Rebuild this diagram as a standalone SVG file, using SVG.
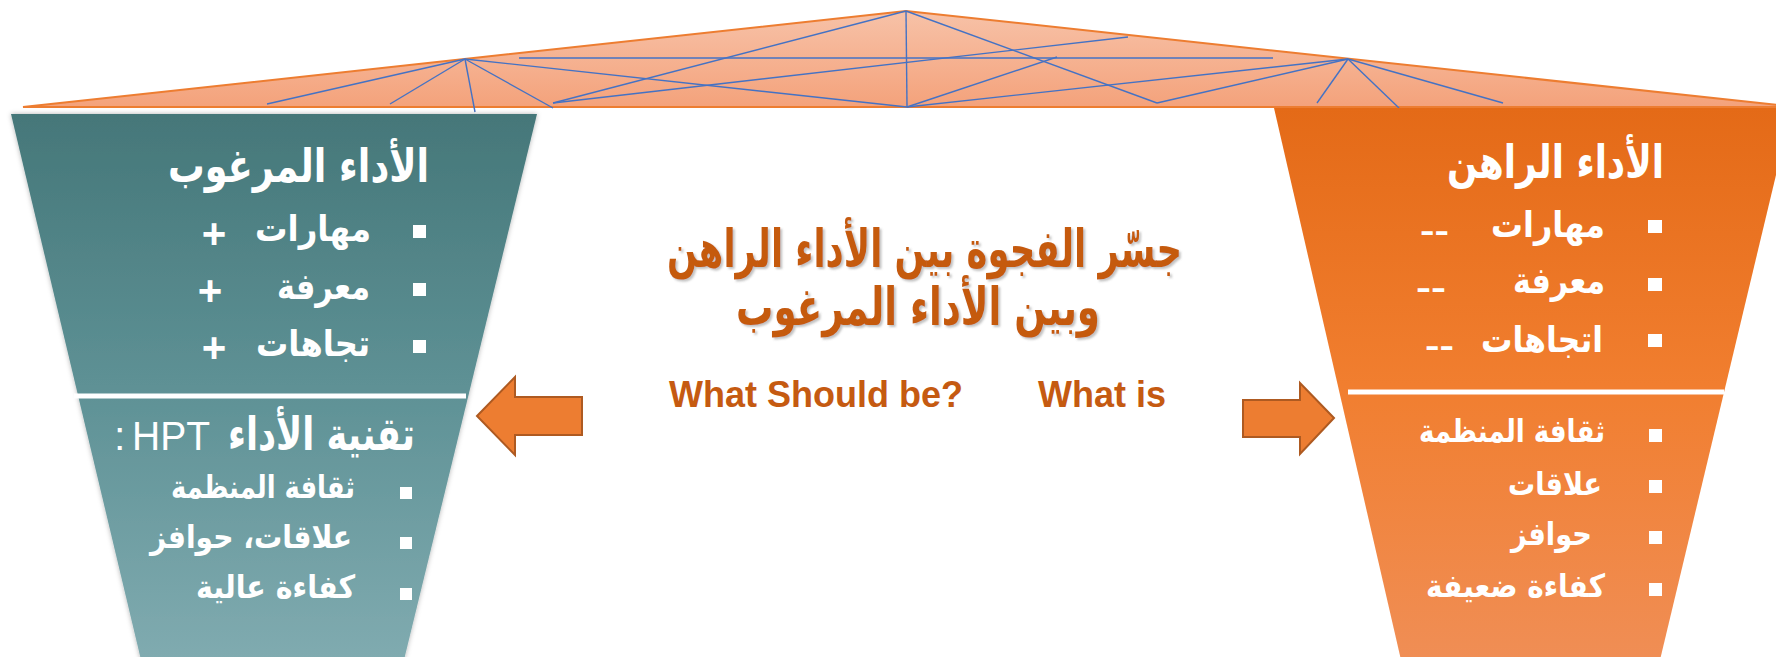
<svg xmlns="http://www.w3.org/2000/svg" width="1776" height="657" viewBox="0 0 1776 657">
<defs>
<linearGradient id="gRoof" x1="0" y1="0" x2="0" y2="1"><stop offset="0" stop-color="#F7C2A8"/><stop offset="1" stop-color="#F4A27B"/></linearGradient>
<linearGradient id="gTeal" x1="0" y1="0" x2="0" y2="1"><stop offset="0" stop-color="#457779"/><stop offset="0.5" stop-color="#5E9195"/><stop offset="1" stop-color="#80ABB0"/></linearGradient>
<linearGradient id="gOrange" x1="0" y1="0" x2="0" y2="1"><stop offset="0" stop-color="#E46A17"/><stop offset="0.5" stop-color="#F17E2F"/><stop offset="1" stop-color="#F08E55"/></linearGradient>
<filter id="sh" x="-10%" y="-10%" width="120%" height="120%"><feDropShadow dx="0" dy="0" stdDeviation="2.5" flood-color="#000" flood-opacity="0.3"/></filter>
<filter id="tsh" x="-5%" y="-20%" width="110%" height="140%"><feDropShadow dx="2" dy="2" stdDeviation="0.8" flood-color="#777" flood-opacity="0.45"/></filter>
</defs>
<style>
.ar{font-family:'DejaVu Sans','Noto Sans',sans-serif;font-weight:bold;fill:#fff}
.t1{font-size:46px}
.t2{font-size:36px}
.t3{font-size:32px}
.bul{fill:#fff}
.wl{stroke:#fff;stroke-width:5}
.truss{stroke:#4472C4;stroke-width:1.4;fill:none}
.arw{fill:#ED7D31;stroke:#AE5A21;stroke-width:2}
.en{font-family:'Liberation Sans',Arial,sans-serif;font-weight:bold;fill:#C55A11;font-size:36px}
.ctr{font-family:'DejaVu Sans','Noto Sans',sans-serif;font-weight:bold;font-size:52px;fill:#C55A11}
.sym{font-family:'Liberation Sans',Arial,sans-serif;font-weight:bold;fill:#fff;font-size:42px}
.dash{font-family:'Liberation Sans',Arial,sans-serif;font-weight:bold;fill:#fff;font-size:32px}
</style>
<rect width="1776" height="657" fill="#fff"/>

<g id="roof">
<polygon points="23,107 906,11 1778,105 1778,107" fill="url(#gRoof)" stroke="#ED7D31" stroke-width="2"/>
<g class="truss">
<line x1="465" y1="59" x2="267" y2="104"/>
<line x1="465" y1="59" x2="390" y2="104"/>
<line x1="465" y1="59" x2="475" y2="112"/>
<line x1="465" y1="59" x2="553" y2="108"/>
<line x1="465" y1="59" x2="907" y2="107"/>
<line x1="519" y1="58" x2="1273" y2="58"/>
<line x1="553" y1="103" x2="906" y2="11"/>
<line x1="553" y1="103" x2="1128" y2="37"/>
<line x1="906" y1="11" x2="907" y2="107"/>
<line x1="906" y1="11" x2="1157" y2="103"/>
<line x1="1157" y1="103" x2="1348" y2="59"/>
<line x1="907" y1="107" x2="1057" y2="57"/>
<line x1="907" y1="107" x2="1348" y2="59"/>
<line x1="1348" y1="59" x2="1317" y2="103"/>
<line x1="1348" y1="59" x2="1399" y2="108"/>
<line x1="1348" y1="59" x2="1503" y2="103"/>
</g>
</g>

<g id="desired">
<polygon points="11,114 537,114 404,660 141,660" fill="url(#gTeal)" filter="url(#sh)"/>
<line class="wl" x1="74" y1="396" x2="466" y2="396"/>
<text class="ar t1" x="429" y="182" text-anchor="end" textLength="261" lengthAdjust="spacingAndGlyphs">الأداء المرغوب</text>
<rect class="bul" x="413" y="225" width="13" height="13"/>
<rect class="bul" x="413" y="283" width="13" height="13"/>
<rect class="bul" x="413" y="340" width="13" height="13"/>
<text class="ar t2" x="371" y="241" text-anchor="end" textLength="116" lengthAdjust="spacingAndGlyphs">مهارات</text>
<text class="ar t2" x="370" y="299" text-anchor="end" textLength="93" lengthAdjust="spacingAndGlyphs">معرفة</text>
<text class="ar t2" x="370" y="356" text-anchor="end" textLength="114" lengthAdjust="spacingAndGlyphs">تجاهات</text>
<text class="sym" x="214" y="248" text-anchor="middle">+</text>
<text class="sym" x="210" y="305" text-anchor="middle">+</text>
<text class="sym" x="214" y="362" text-anchor="middle">+</text>
<text class="ar t1" x="415" y="450" text-anchor="end" textLength="187" lengthAdjust="spacingAndGlyphs">تقنية الأداء</text>
<text x="132" y="450" font-family="'Liberation Sans',Arial,sans-serif" font-size="41" fill="#fff" textLength="78" lengthAdjust="spacingAndGlyphs">HPT</text>
<text x="114" y="450" font-family="'Liberation Sans',Arial,sans-serif" font-size="41" fill="#fff">:</text>
<rect class="bul" x="400" y="487" width="12" height="12"/>
<rect class="bul" x="400" y="537" width="12" height="12"/>
<rect class="bul" x="400" y="588" width="12" height="12"/>
<text class="ar t3" x="355" y="498" text-anchor="end" textLength="184" lengthAdjust="spacingAndGlyphs">ثقافة المنظمة</text>
<text class="ar t3" x="352" y="548" text-anchor="end" textLength="202" lengthAdjust="spacingAndGlyphs">علاقات، حوافز</text>
<text class="ar t3" x="355" y="598" text-anchor="end" textLength="159" lengthAdjust="spacingAndGlyphs">كفاءة عالية</text>
</g>

<g id="current">
<polygon points="1274,108 1792,108 1660,660 1401,660" fill="url(#gOrange)"/>
<line class="wl" x1="1348" y1="392" x2="1724" y2="392"/>
<text class="ar t1" x="1664" y="178" text-anchor="end" textLength="217" lengthAdjust="spacingAndGlyphs">الأداء الراهن</text>
<rect class="bul" x="1648" y="220" width="14" height="13"/>
<rect class="bul" x="1648" y="278" width="14" height="13"/>
<rect class="bul" x="1648" y="334" width="14" height="13"/>
<text class="ar t2" x="1605" y="237" text-anchor="end" textLength="114" lengthAdjust="spacingAndGlyphs">مهارات</text>
<text class="ar t2" x="1605" y="293" text-anchor="end" textLength="92" lengthAdjust="spacingAndGlyphs">معرفة</text>
<text class="ar t2" x="1603" y="352" text-anchor="end" textLength="122" lengthAdjust="spacingAndGlyphs">اتجاهات</text>
<text class="dash" x="1420" y="241" textLength="29" lengthAdjust="spacingAndGlyphs">--</text>
<text class="dash" x="1416" y="298" textLength="30" lengthAdjust="spacingAndGlyphs">--</text>
<text class="dash" x="1425" y="356" textLength="29" lengthAdjust="spacingAndGlyphs">--</text>
<rect class="bul" x="1649" y="429" width="13" height="13"/>
<rect class="bul" x="1649" y="480" width="13" height="13"/>
<rect class="bul" x="1649" y="531" width="13" height="13"/>
<rect class="bul" x="1649" y="583" width="13" height="13"/>
<text class="ar t3" x="1605" y="442" text-anchor="end" textLength="186" lengthAdjust="spacingAndGlyphs">ثقافة المنظمة</text>
<text class="ar t3" x="1602" y="495" text-anchor="end" textLength="94" lengthAdjust="spacingAndGlyphs">علاقات</text>
<text class="ar t3" x="1592" y="545" text-anchor="end" textLength="81" lengthAdjust="spacingAndGlyphs">حوافز</text>
<text class="ar t3" x="1605" y="597" text-anchor="end" textLength="179" lengthAdjust="spacingAndGlyphs">كفاءة ضعيفة</text>
</g>

<g id="title">
<text class="ctr" x="1182" y="267" text-anchor="end" textLength="515" lengthAdjust="spacingAndGlyphs" filter="url(#tsh)">جسّر الفجوة بين الأداء الراهن</text>
<text class="ctr" x="1100" y="325" text-anchor="end" textLength="364" lengthAdjust="spacingAndGlyphs" filter="url(#tsh)">وبين الأداء المرغوب</text>
<text class="en" x="669" y="407">What Should be?</text>
<text class="en" x="1038" y="407">What is</text>
</g>

<g id="connectors">
<polygon class="arw" points="477,416 515,377 515,397 582,397 582,435 515,435 515,455"/>
<polygon class="arw" points="1334,418 1300,383 1300,400 1243,400 1243,437 1300,437 1300,454"/>
</g>
</svg>
